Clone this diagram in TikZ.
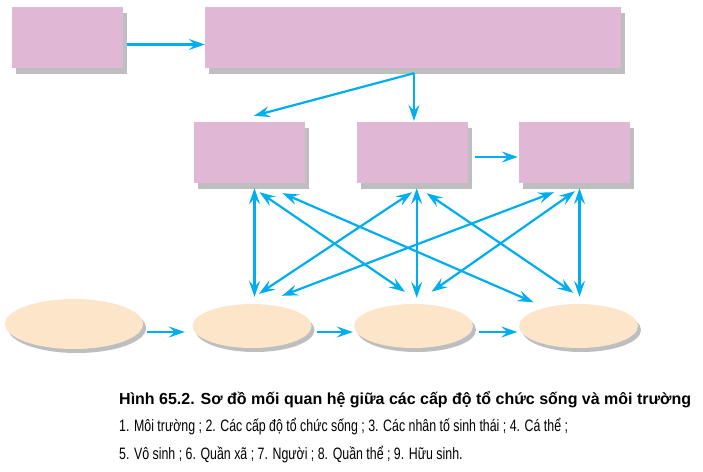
\documentclass[tikz,border=0pt]{standalone}
\usepackage{fontspec}
\setmainfont{Liberation Sans}
\newfontfamily\condfont[FakeStretch=0.75]{Liberation Sans}
\usetikzlibrary{arrows.meta,shapes.geometric,shadows,calc}
\definecolor{boxpink}{RGB}{224,184,214}
\definecolor{shadowgrey}{RGB}{189,190,192}
\definecolor{peach}{RGB}{253,229,201}
\definecolor{arrowblue}{RGB}{0,174,239}
\tikzset{
  pinkbox/.style={rectangle, fill=boxpink, inner sep=0pt, minimum height=61pt,
    drop shadow={shadow xshift=4pt, shadow yshift=-6pt, fill=shadowgrey, opacity=1}},
  peachell/.style={ellipse, fill=peach, inner sep=0pt,
    drop shadow={shadow xshift=3pt, shadow yshift=-4pt, fill=shadowgrey, opacity=1}},
  tip/.tip={Stealth[length=16pt,width=11pt,inset=6pt]},
  conn/.style={draw=arrowblue, line width=2.2pt, -tip},
  dconn/.style={draw=arrowblue, line width=2.2pt, tip-tip}
}
\begin{document}
\begin{tikzpicture}[x=1pt,y=-1pt]
\useasboundingbox (0,0) rectangle (703,471);
% boxes
\node[pinkbox, minimum width=111pt] (b1) at (67.5,37.5) {};
\node[pinkbox, minimum width=416pt] (b2) at (413,37.5) {};
\node[pinkbox, minimum width=111pt] (bA) at (249.5,152.5) {};
\node[pinkbox, minimum width=111pt] (bB) at (412,152.5) {};
\node[pinkbox, minimum width=111pt] (bC) at (574.5,152.5) {};
% ellipses
\node[peachell, minimum width=138pt, minimum height=50pt] (e1) at (74,324) {};
\node[peachell, minimum width=119pt, minimum height=44pt] (e2) at (252,326) {};
\node[peachell, minimum width=119pt, minimum height=44pt] (e3) at (413.5,326) {};
\node[peachell, minimum width=119pt, minimum height=44pt] (e4) at (578.5,326) {};
% top arrows
\draw[conn] ($(b1.east)+(4,7)$) -- ($(b2.west)+(0,7)$);
\coordinate (split) at ($(b2.south)+(1,5)$);
\draw[conn] (split) -- ($(bB.north)+(2,-1)$);
\draw[conn] (split) -- ($(bA.north)+(4.5,-6)$);
\draw[conn] ($(bB.east)+(7.5,4.5)$) -- ($(bC.west)+(-1,4.5)$);
% cross arrows
\draw[dconn] ($(bA.south)+(5,5)$) -- ($(e2.north)+(2.5,-7)$);
\draw[dconn] ($(bA.south)+(10,9)$) -- ($(e3.north)+(-8.5,-12)$);
\draw[dconn] ($(bA.south)+(33,10)$) -- ($(e4.north)+(-45,-1.5)$);
\draw[dconn] ($(bB.south)+(0,9)$) -- ($(e2.north)+(7,-10)$);
\draw[dconn] ($(bB.south)+(4.7,5)$) -- ($(e3.north)+(3.2,-6)$);
\draw[dconn] ($(bB.south)+(14.7,10)$) -- ($(e4.north)+(-5.2,-11)$);
\draw[dconn] ($(bC.south)+(-20.5,9)$) -- ($(e2.north)+(30,-8)$);
\draw[dconn] ($(bC.south)+(0.5,8)$) -- ($(e3.north)+(18,-12)$);
\draw[dconn] ($(bC.south)+(5,5)$) -- ($(e4.north)+(1,-7)$);
% ellipse arrows
\draw[conn] ($(e1.east)+(4,8)$) -- ($(e2.west)+(-7.5,6)$);
\draw[conn] ($(e2.east)+(5,6)$) -- ($(e3.west)+(-1,6)$);
\draw[conn] ($(e3.east)+(6,6)$) -- ($(e4.west)+(-1.5,6)$);
% caption
\node[anchor=base west, inner sep=0pt, font=\bfseries\fontsize{16}{19}\selectfont] (title) at (119,404)
  {Hình 65.2. Sơ đồ mối quan hệ giữa các cấp độ tổ chức sống và môi trường};
\node[anchor=base west, inner sep=0pt, font=\condfont\fontsize{16.5}{19}\selectfont] (l2) at (119,431.5)
  {1. Môi trường ; 2. Các cấp độ tổ chức sống ; 3. Các nhân tố sinh thái ; 4. Cá thể ;};
\node[anchor=base west, inner sep=0pt, font=\condfont\fontsize{16.5}{19}\selectfont] (l3) at (119,459)
  {5. Vô sinh ; 6. Quần xã ; 7. Người ; 8. Quần thể ; 9. Hữu sinh.};
\end{tikzpicture}
\end{document}
